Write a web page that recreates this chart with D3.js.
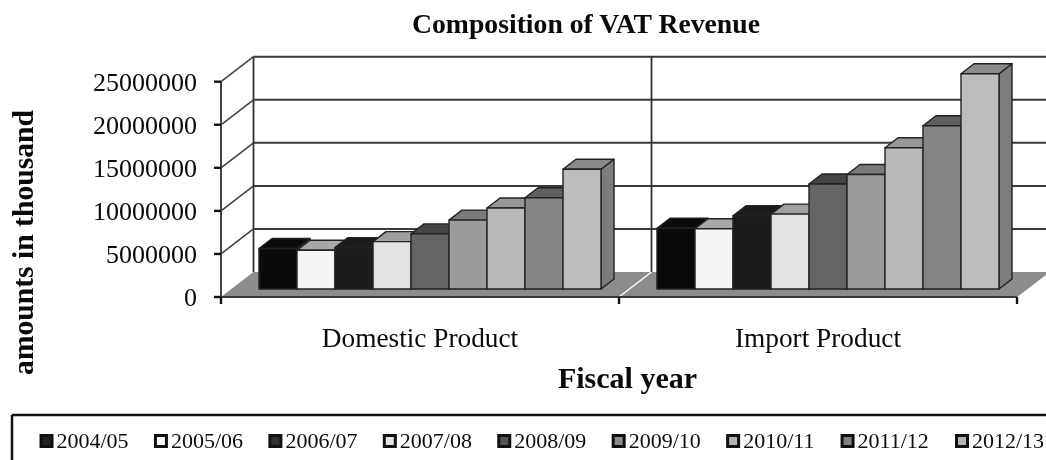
<!DOCTYPE html>
<html><head><meta charset="utf-8">
<script src="https://cdnjs.cloudflare.com/ajax/libs/d3/7.8.5/d3.min.js"></script>
<style>html,body{margin:0;padding:0;background:#fff;overflow:hidden}svg{display:block;filter:blur(0.35px)}text{font-family:"Liberation Serif",serif;fill:#0a0a0a}</style>
</head><body><svg id="c" width="1046" height="460"></svg>
<script>
const categories = ["Domestic Product", "Import Product"];
const years = ["2004/05","2005/06","2006/07","2007/08","2008/09","2009/10","2010/11","2011/12","2012/13"];
const domestic = [4700000,4500000,4800000,5500000,6400000,8000000,9400000,10600000,13900000];
const importProduct = [7050000,7000000,8500000,8700000,12200000,13300000,16400000,18950000,25000000];
const yTicks = [0,5000000,10000000,15000000,20000000,25000000];
const frontColors = ["#0a0a0a","#f5f5f5","#1c1c1c","#e2e2e2","#646464","#9b9b9b","#b9b9b9","#858585","#bdbdbd"];
const topColors = ["#0a0a0a","#a8a8a8","#1c1c1c","#a0a0a0","#454545","#7a7a7a","#969696","#5f5f5f","#8a8a8a"];
const legendFills = ["#222222","#f8f8f8","#303030","#e6e6e6","#555555","#8c8c8c","#b0b0b0","#808080","#b4b4b4"];
const sideColor = "#7d7d7d";

const svg = d3.select("#c");
const wallDx = 32.5, wallDy = -25;
const x0 = d3.scaleBand().domain(categories).range([221,1017]);
const y = d3.scaleLinear().domain([0,25000000]).range([297,81.7]);
const barBaseDx = 38, barBaseDy = -8, barDepthX = 13, barDepthY = -10;
const seriesBand = d3.scaleBand().domain(years).range([0,342]);

const line = (a,b,c,d,w=1.6,col="#222") => svg.append("line").attr("x1",a).attr("y1",b).attr("x2",c).attr("y2",d).attr("stroke",col).attr("stroke-width",w);
const poly = (pts,f,s="#222",w=1) => svg.append("polygon").attr("points",pts.map(p=>p.join(",")).join(" ")).attr("fill",f).attr("stroke",s).attr("stroke-width",w).attr("stroke-linejoin","round");

// walls
yTicks.forEach(v=>{
  const yy = y(v);
  if(v>0) line(221+wallDx,yy+wallDy,1046,yy+wallDy,2,"#3a3a3a");
  if(v>0) line(221,yy,221+wallDx,yy+wallDy,1.6,"#444");
});
line(221+wallDx,y(25000000)+wallDy,221+wallDx,y(0)+wallDy,1.8,"#333");
line(x0("Import Product")+wallDx,y(25000000)+wallDy,x0("Import Product")+wallDx,y(0)+wallDy,1.8,"#333");
line(221,y(25000000),221,304,2,"#444");

// floor
poly([[221,y(0)],[221+wallDx,y(0)+wallDy],[1050,y(0)+wallDy],[1017,y(0)]],"#8c8c8c","none",0);
line(x0("Import Product"),y(0),x0("Import Product")+wallDx,y(0)+wallDy,1.5,"#fff");
line(221,y(0),1017,y(0),2.2,"#3a3a3a");

// ticks
yTicks.forEach(v=>line(214,y(v),221,y(v),2.4,"#111"));
[221,619,1017].forEach(x=>line(x,y(0),x,304,2.4,"#111"));
svg.append("g").selectAll("text").data(yTicks).join("text")
  .attr("x",197).attr("y",d=>y(d)+9).attr("text-anchor","end").attr("font-size",26).text(d=>d);

// bars
const h = v => y(0)-y(v);
[[categories[0],domestic],[categories[1],importProduct]].forEach(([c,vals])=>{
  vals.forEach((v,i)=>{
    const xl = x0(c)+barBaseDx+seriesBand(years[i]), xr = xl+seriesBand.bandwidth();
    const yb = y(0)+barBaseDy, yt = yb-h(v);
    poly([[xr,yt],[xr+barDepthX,yt+barDepthY],[xr+barDepthX,yb+barDepthY],[xr,yb]],sideColor,"#222",1.4);
    poly([[xl,yt],[xl+barDepthX,yt+barDepthY],[xr+barDepthX,yt+barDepthY],[xr,yt]],topColors[i],"#222",1.4);
    poly([[xl,yt],[xr,yt],[xr,yb],[xl,yb]],frontColors[i],"#222",1.4);
  });
});

// texts
svg.append("text").attr("x",586).attr("y",33).attr("text-anchor","middle").attr("font-size",27.7).attr("font-weight","bold").text("Composition of VAT Revenue");
svg.append("g").selectAll("text").data(categories).join("text")
  .attr("x",d=>x0(d)+x0.bandwidth()/2).attr("y",347).attr("text-anchor","middle").attr("font-size",27.3).text(d=>d);
svg.append("text").attr("x",627.5).attr("y",388).attr("text-anchor","middle").attr("font-size",30).attr("font-weight","bold").text("Fiscal year");
svg.append("text").attr("transform","translate(33,242.5) rotate(-90)").attr("text-anchor","middle").attr("font-size",29.6).attr("font-weight","bold").text("amounts in thousand");

// legend
line(12,415,1046,415,2.5,"#111");
line(12,415,12,460,2.5,"#111");
const lx = d3.scalePoint().domain(years).range([39.5,955]);
const lg = svg.append("g").selectAll("g").data(years).join("g").attr("transform",d=>`translate(${lx(d)},0)`);
lg.append("rect").attr("x",1.5).attr("y",435.5).attr("width",11).attr("height",11).attr("fill",(d,i)=>legendFills[i]).attr("stroke","#111").attr("stroke-width",3);
lg.append("text").attr("x",17).attr("y",448).attr("font-size",22).text(d=>d);
</script></body></html>
